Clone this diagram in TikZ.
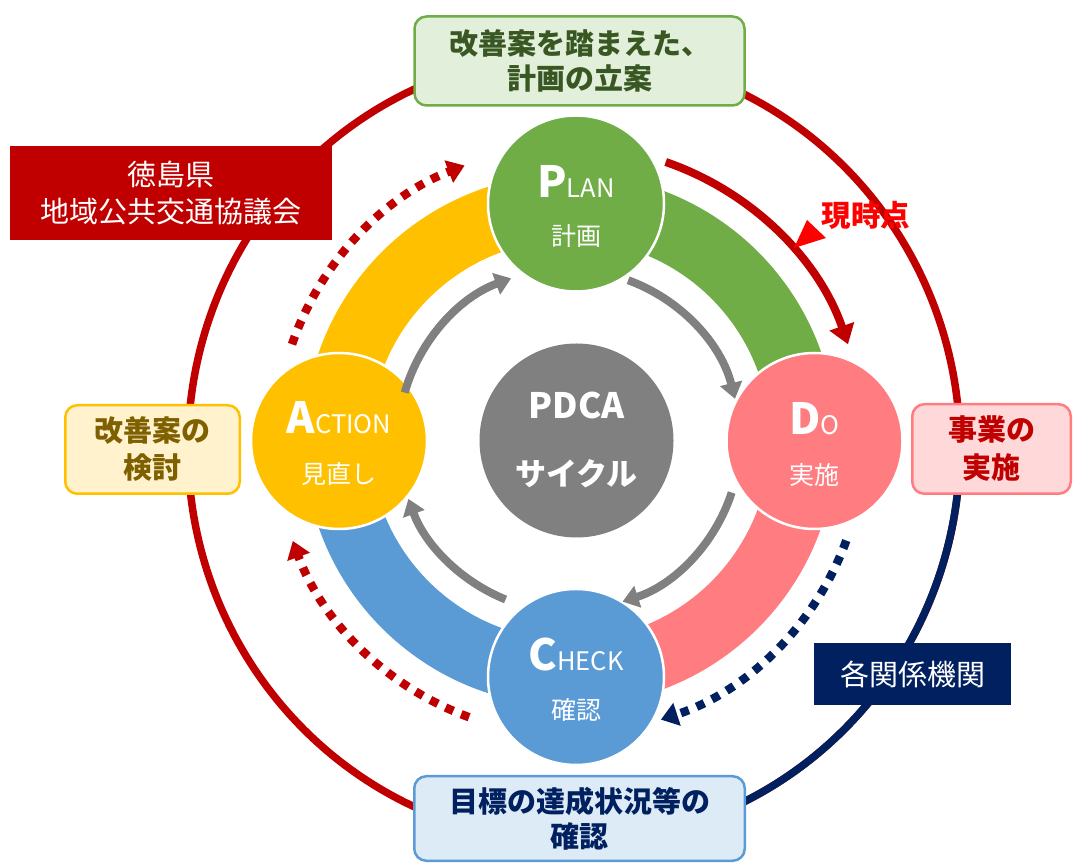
\documentclass[tikz,border=0pt]{standalone}
\usepackage{fontspec}
\setmainfont{Noto Sans CJK JP}
\usetikzlibrary{arrows.meta,calc}
\definecolor{dred}{HTML}{C00000}
\definecolor{navy}{HTML}{002060}
\definecolor{pgreen}{HTML}{70AD47}
\definecolor{pyellow}{HTML}{FFC000}
\definecolor{ppink}{HTML}{FF7C80}
\definecolor{pblue}{HTML}{5B9BD5}
\definecolor{pgray}{HTML}{808080}
\definecolor{lgreen}{HTML}{E2EFDA}
\definecolor{lyellow}{HTML}{FFF2CC}
\definecolor{lpink}{HTML}{FFD8D9}
\definecolor{lblue}{HTML}{DDEBF7}
\definecolor{tgreen}{HTML}{385723}
\definecolor{tbrown}{HTML}{7F6000}
\definecolor{pured}{HTML}{FF0000}
\newcommand\pdcatitle[2]{{\bfseries\fontsize{43}{43}\selectfont #1}{\fontsize{25.5}{25.5}\selectfont #2}}
\begin{document}
\begin{tikzpicture}[x=1pt,y=1pt,
  circ/.style={circle, minimum size=176pt, inner sep=0pt, draw=white, line width=2.5pt},
  ttl/.style={text=white, inner sep=0pt},
  sub/.style={text=white, inner sep=0pt, font=\fontsize{25}{25}\selectfont},
  box/.style={rounded corners=12pt, line width=2.5pt, align=center, inner sep=0pt, font=\bfseries\fontsize{29}{36}\selectfont},
  sqbox/.style={align=center, inner sep=0pt, text=white, font=\fontsize{29}{37}\selectfont},
  garr/.style={draw=pgray, line width=8pt, -{Triangle[length=16pt,width=22pt]}},
  oarr/.style={line width=8pt, -{Triangle[length=19pt,width=25pt]}},
  dotarr/.style={line width=8.5pt, dash pattern=on 8.5pt off 8.5pt, -{Triangle[length=17pt,width=23pt]}},
  ringline/.style={line width=7.5pt}
]
\useasboundingbox (0,0) rectangle (1075,864);
\clip (0,0) rectangle (1075,864);

\coordinate (OA) at (570,424);
\coordinate (R) at (574,416);

% outer ring
\draw[ringline, dred] (R) ellipse [x radius=386, y radius=394];
\coordinate (ringE) at ($(R)+(386,0)$);
\draw[ringline, navy] (ringE) arc[start angle=0, end angle=-70, x radius=386, y radius=394];

% coloured bands
\fill[pyellow] ($(OA)+(90:200)$) arc[start angle=90,end angle=180,radius=200] -- ($(OA)+(180:266)$) arc[start angle=180,end angle=90,radius=266] -- cycle;
\fill[pgreen] ($(OA)+(0:200)$) arc[start angle=0,end angle=90,radius=200] -- ($(OA)+(90:266)$) arc[start angle=90,end angle=0,radius=266] -- cycle;
\fill[ppink] ($(OA)+(-90:200)$) arc[start angle=-90,end angle=0,radius=200] -- ($(OA)+(0:266)$) arc[start angle=0,end angle=-90,radius=266] -- cycle;
\fill[pblue] ($(OA)+(180:200)$) arc[start angle=180,end angle=270,radius=200] -- ($(OA)+(270:266)$) arc[start angle=270,end angle=180,radius=266] -- cycle;

% circles
\node[circ, fill=pgreen] (P) at (576,660.5) {};
\node[circ, fill=ppink] (D) at (814.5,423) {};
\node[circ, fill=pblue] (C) at (576,187) {};
\node[circ, fill=pyellow] (A) at (339,423) {};
\node[circle, fill=pgray, minimum size=194pt, inner sep=0pt] (G) at (576.5,423.5) {};

\node[ttl] (Pt) at ($(P)+(0,22)$) {\pdcatitle{P}{LAN}};
\node[sub] (Ps) at ($(P)+(0,-33)$) {計画};
\node[ttl] (Dt) at ($(D)+(0,22)$) {\pdcatitle{D}{O}};
\node[sub] (Ds) at ($(D)+(0,-34)$) {実施};
\node[ttl] (Ct) at ($(C)+(0,22)$) {\pdcatitle{C}{HECK}};
\node[sub] (Cs) at ($(C)+(0,-33)$) {確認};
\node[ttl] (At) at ($(A)+(0,23)$) {\pdcatitle{A}{CTION}};
\node[sub] (As) at ($(A)+(0,-33)$) {見直し};
\node[ttl, font=\bfseries\fontsize{35}{35}\selectfont] (Gt) at ($(G)+(0,35)$) {PDCA};
\node[ttl, font=\bfseries\fontsize{31}{31}\selectfont] (Gs) at ($(G)+(0,-33)$) {サイクル};

% gray inner arrows
\coordinate (gPD) at ($(OA)+(70:170)$);
\coordinate (gDC) at ($(OA)+(-18:170)$);
\coordinate (gCA) at ($(OA)+(-112:172)$);
\coordinate (gAP) at ($(OA)+(164:172)$);
\draw[garr] (gPD) arc[start angle=70, end angle=14, radius=170];
\draw[garr] (gDC) arc[start angle=-18, end angle=-72, radius=170];
\draw[garr] (gCA) arc[start angle=-112, end angle=-160, radius=172];
\draw[garr] (gAP) arc[start angle=164, end angle=110, radius=172];

% outer arrows
\coordinate (oPD) at ($(OA)+(71:294)$);
\coordinate (oDC) at ($(OA)+(-20:294)$);
\coordinate (oCA) at ($(OA)+(-110:295)$);
\coordinate (oAP) at ($(OA)+(161:294)$);
\draw[oarr, dred] (oPD) arc[start angle=71, end angle=19, radius=294];
\draw[dotarr, navy] (oDC) arc[start angle=-20, end angle=-72, radius=294];
\draw[dotarr, dred] (oCA) arc[start angle=-110, end angle=-160, radius=295];
\draw[dotarr, dred] (oAP) arc[start angle=161, end angle=111, radius=294];

% current point label
\node[text=pured, inner sep=0pt, font=\bfseries\fontsize{29.5}{29.5}\selectfont] (now) at (866,648.5) {現時点};
\fill[pured] (807,644) -- (826,626) -- (794,616) -- cycle;

% boxes
\node[box, draw=pgreen, fill=lgreen, text=tgreen, minimum width=330pt, minimum height=89pt,
  font=\bfseries\fontsize{29}{35}\selectfont] (top) at (579.5,803) {改善案を踏まえた、\\計画の立案};
\node[sqbox, fill=dred, minimum width=322pt, minimum height=94pt] (kyo) at (171,671) {徳島県\\地域公共交通協議会};
\node[box, draw=pyellow, fill=lyellow, text=tbrown, minimum width=174.5pt, minimum height=88.5pt,
  font=\bfseries\fontsize{29}{37}\selectfont] (left) at (152.5,414.5) {改善案の\\検討};
\node[box, draw=ppink, fill=lpink, text=dred, minimum width=158.5pt, minimum height=89.5pt,
  font=\bfseries\fontsize{29}{38}\selectfont] (right) at (991.5,415) {事業の\\実施};
\node[sqbox, fill=navy, minimum width=197pt, minimum height=62pt] (kan) at (912.5,190) {各関係機関};
\node[box, draw=pblue, fill=lblue, text=navy, minimum width=330.5pt, minimum height=84.5pt,
  font=\bfseries\fontsize{29}{35}\selectfont] (bot) at (579.5,45.5) {目標の達成状況等の\\確認};
\end{tikzpicture}
\end{document}
